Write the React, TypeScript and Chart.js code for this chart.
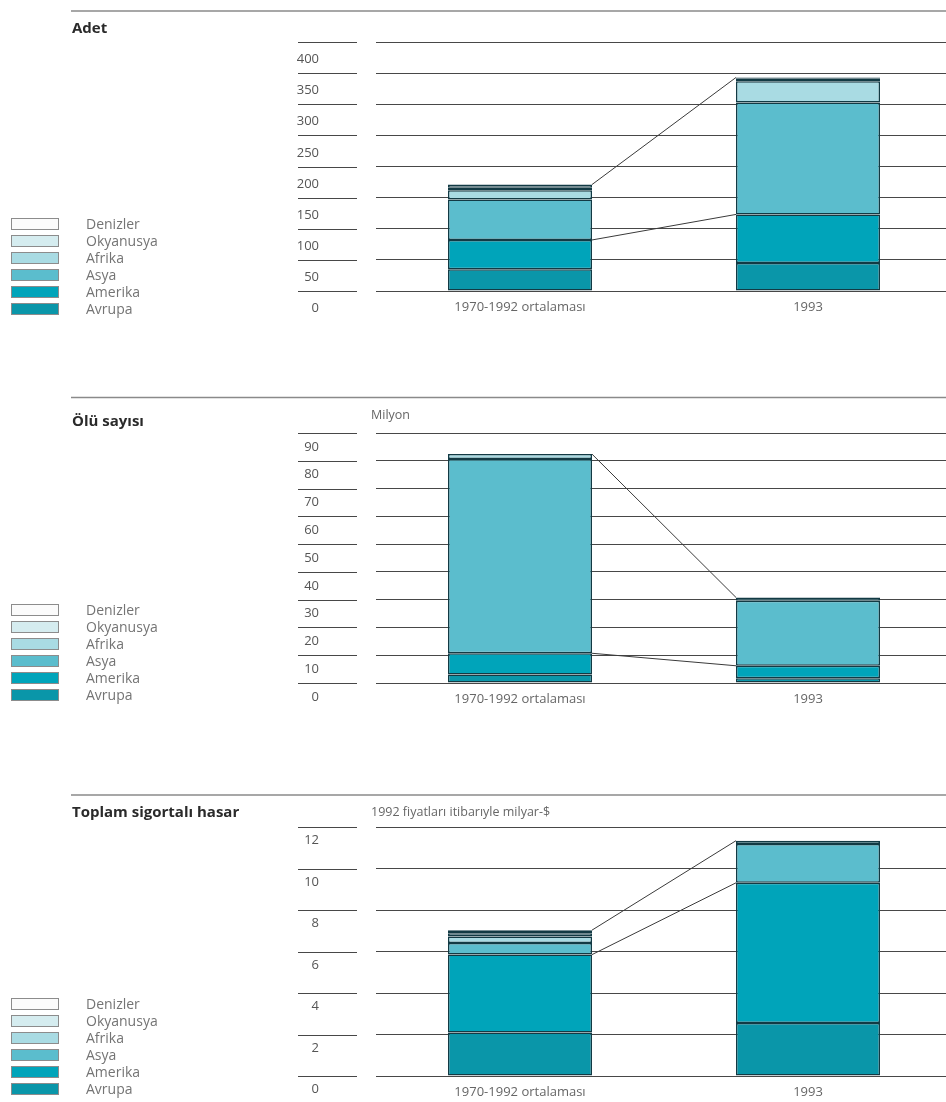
import React, { useEffect, useRef } from 'react';
import { Chart, registerables } from 'chart.js';

Chart.register(...registerables);

// ---------- data ----------
const categories = ['1970-1992 ortalaması', '1993'];
const seriesNames = ['Avrupa', 'Amerika', 'Asya', 'Afrika', 'Okyanusya', 'Denizler'];
const seriesColors = ['#0a96a9', '#00a4ba', '#5bbdcd', '#a9dbe3', '#d5ecef', '#fbfbfb'];

// Adet
const adetAvrupa = [35, 45];
const adetAmerika = [47, 78];
const adetAsya = [65, 180];
const adetAfrika = [15, 34];
const adetOkyanusya = [4, 4];
const adetDenizler = [5, 2];
const adetTicks = [0, 50, 100, 150, 200, 250, 300, 350, 400];

// Ölü sayısı (milyon)
const oluAvrupa = [3.1, 1.7];
const oluAmerika = [7.6, 4.5];
const oluAsya = [69.9, 23.4];
const oluAfrika = [1.8, 1.2];
const oluOkyanusya = [0, 0];
const oluDenizler = [0, 0];
const oluTicks = [0, 10, 20, 30, 40, 50, 60, 70, 80, 90];

// Toplam sigortalı hasar (milyar $)
const hasarAvrupa = [2.1, 2.56];
const hasarAmerika = [3.75, 6.75];
const hasarAsya = [0.56, 1.87];
const hasarAfrika = [0.31, 0.16];
const hasarOkyanusya = [0.16, 0];
const hasarDenizler = [0.15, 0];
const hasarTicks = [0, 2, 4, 6, 8, 10, 12];

// ---------- styles ----------
const CANVAS_W = 952;
const XAXIS_H = 36;
const AXIS_LEFT = 288;
const GRID = '#474747';
const BAR_BORDER = '#123a44';
const FONT = '"Open Sans", "Noto Sans", sans-serif';

type PanelSpec = {
  title: string;
  unit?: string;
  series: number[][];
  ticks: number[];
  top: number;
  height: number;
  ruleY: number;
  titleY: number;
  unitY: number;
  chartTop: number;
  chartBottom: number;
  labelOffset: number;
  legendTop: number;
};

const panels: PanelSpec[] = [
  {
    title: 'Adet',
    series: [adetAvrupa, adetAmerika, adetAsya, adetAfrika, adetOkyanusya, adetDenizler],
    ticks: adetTicks,
    top: 0, height: 390, ruleY: 11, titleY: 29, unitY: 0,
    chartTop: 42, chartBottom: 291, labelOffset: 17.5, legendTop: 218,
  },
  {
    title: 'Ölü sayısı',
    unit: 'Milyon',
    series: [oluAvrupa, oluAmerika, oluAsya, oluAfrika, oluOkyanusya, oluDenizler],
    ticks: oluTicks,
    top: 390, height: 390, ruleY: 7.5, titleY: 31.5, unitY: 25,
    chartTop: 43, chartBottom: 293, labelOffset: 14, legendTop: 214,
  },
  {
    title: 'Toplam sigortalı hasar',
    unit: '1992 fiyatları itibarıyle milyar-$',
    series: [hasarAvrupa, hasarAmerika, hasarAsya, hasarAfrika, hasarOkyanusya, hasarDenizler],
    ticks: hasarTicks,
    top: 780, height: 332, ruleY: 15, titleY: 32.5, unitY: 32,
    chartTop: 47, chartBottom: 296, labelOffset: 13.5, legendTop: 218,
  },
];

function makeDecor(p: PanelSpec) {
  return {
    id: 'decor',
    afterDatasetsDraw(chart: any) {
      const ctx = chart.ctx as CanvasRenderingContext2D;
      const ys = chart.scales.y;
      ctx.save();
      // left tick segments
      ctx.strokeStyle = GRID;
      ctx.lineWidth = 1;
      ys.ticks.forEach((t: any) => {
        const py = Math.round(ys.getPixelForValue(t.value)) + 0.5;
        ctx.beginPath();
        ctx.moveTo(298, py);
        ctx.lineTo(357, py);
        ctx.stroke();
      });
      // connectors between the two bars
      const n = p.series.length;
      const totals = categories.map((_, c) => p.series.reduce((s, arr) => s + arr[c], 0));
      const amer = categories.map((_, c) => p.series[0][c] + p.series[1][c]);
      const els = chart.getDatasetMeta(n - 1).data as any[];
      const a = els[0], b = els[1];
      ctx.strokeStyle = '#3a3a3a';
      ctx.lineWidth = 1;
      [totals, amer].forEach((vals) => {
        ctx.beginPath();
        ctx.moveTo(a.x + a.width / 2, ys.getPixelForValue(vals[0]));
        ctx.lineTo(b.x - b.width / 2, ys.getPixelForValue(vals[1]));
        ctx.stroke();
      });
      ctx.restore();
    },
    afterDraw(chart: any) {
      const ctx = chart.ctx as CanvasRenderingContext2D;
      ctx.save();
      // header rule
      ctx.strokeStyle = '#8a8a8a';
      ctx.lineWidth = 1.5;
      ctx.beginPath();
      ctx.moveTo(71, p.ruleY);
      ctx.lineTo(CANVAS_W, p.ruleY);
      ctx.stroke();
      // title
      ctx.fillStyle = '#2a2a2a';
      ctx.font = `bold 15px ${FONT}`;
      ctx.textBaseline = 'middle';
      ctx.textAlign = 'left';
      ctx.fillText(p.title, 72, p.titleY);
      // unit
      if (p.unit) {
        ctx.fillStyle = '#666';
        ctx.font = `12.5px ${FONT}`;
        ctx.fillText(p.unit, 371, p.unitY);
      }
      // legend (top item = last series)
      const order = seriesNames.map((_, i) => i).reverse();
      order.forEach((si, row) => {
        const y0 = p.legendTop + row * 17;
        ctx.fillStyle = seriesColors[si];
        ctx.fillRect(11, y0, 48, 12);
        ctx.strokeStyle = '#8c8c8c';
        ctx.lineWidth = 1;
        ctx.strokeRect(11.5, y0 + 0.5, 47, 11);
        ctx.fillStyle = '#747474';
        ctx.font = `14px ${FONT}`;
        ctx.textBaseline = 'middle';
        ctx.fillText(seriesNames[si], 86, y0 + 7);
      });
      ctx.restore();
    },
  };
}

function Panel({ p }: { p: PanelSpec }) {
  const ref = useRef<HTMLCanvasElement | null>(null);
  useEffect(() => {
    if (!ref.current) return;
    const tickMin = p.ticks[0];
    const tickMax = p.ticks[p.ticks.length - 1];
    const step = p.ticks[1] - p.ticks[0];
    const chart = new Chart(ref.current, {
      type: 'bar',
      data: {
        labels: categories,
        datasets: seriesNames.map((name, i) => ({
          label: name,
          data: p.series[i],
          backgroundColor: seriesColors[i],
          borderColor: BAR_BORDER,
          borderWidth: 1.5,
          borderSkipped: false,
          inflateAmount: 0,
          categoryPercentage: 0.5,
          barPercentage: 1,
        })),
      },
      options: {
        animation: false,
        responsive: false,
        devicePixelRatio: 1,
        layout: {
          padding: {
            left: AXIS_LEFT,
            right: 0,
            top: p.chartTop,
            bottom: p.height - p.chartBottom - XAXIS_H,
          },
        },
        plugins: {
          legend: { display: false },
          tooltip: { enabled: false },
        },
        scales: {
          x: {
            stacked: true,
            grid: { display: false },
            border: { display: false },
            ticks: {
              color: '#666',
              font: { family: FONT, size: 13 },
              padding: 0,
              maxRotation: 0,
            },
            afterFit: (s: any) => { s.height = XAXIS_H; },
          },
          y: {
            stacked: true,
            min: tickMin,
            max: tickMax,
            ticks: {
              stepSize: step,
              color: '#555',
              font: { family: FONT, size: 13 },
              padding: 0,
              labelOffset: p.labelOffset,
            },
            grid: {
              color: GRID,
              lineWidth: 1,
              drawTicks: true,
              tickLength: 57,
              tickColor: 'rgba(0,0,0,0)',
            },
            border: { display: false },
            afterFit: (s: any) => { s.width = 376 - AXIS_LEFT; },
          },
        },
      },
      plugins: [makeDecor(p)],
    } as any);
    return () => chart.destroy();
  }, [p]);
  return (
    <canvas
      ref={ref}
      width={CANVAS_W}
      height={p.height}
      style={{ position: 'absolute', left: 0, top: p.top, width: CANVAS_W, height: p.height, display: 'block' }}
    />
  );
}

export default function App() {
  return (
    <div
      style={{
        position: 'absolute',
        left: 0,
        top: 0,
        width: 946,
        height: 1102,
        overflow: 'hidden',
        background: '#ffffff',
      }}
    >
      {panels.map((p, i) => (
        <Panel key={i} p={p} />
      ))}
    </div>
  );
}
